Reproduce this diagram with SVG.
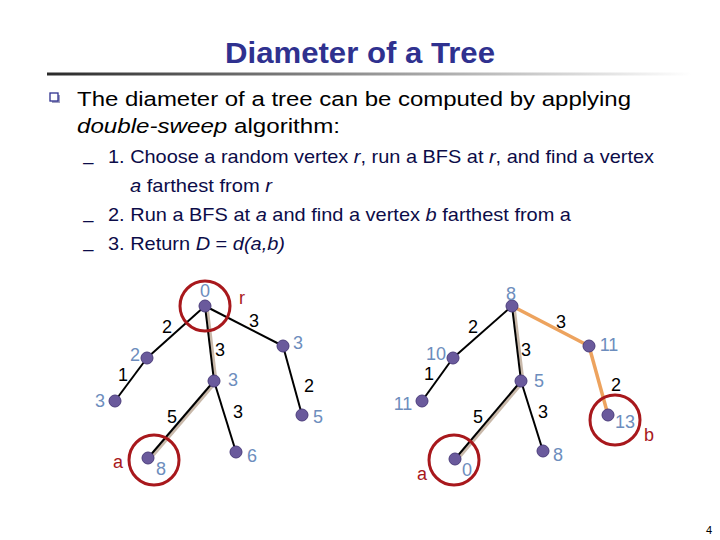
<svg xmlns="http://www.w3.org/2000/svg" width="720" height="540" viewBox="0 0 720 540">
<defs>
<linearGradient id="ul" x1="0" y1="0" x2="1" y2="0">
<stop offset="0" stop-color="#2a2a2a"/>
<stop offset="0.45" stop-color="#8a8a8a"/>
<stop offset="1" stop-color="#ffffff"/>
</linearGradient>
</defs>
<style>
.title{font-family:"Liberation Sans",Arial,sans-serif;font-weight:bold;font-size:30px;fill:#2f318f}
.body{font-family:"Liberation Sans",Arial,sans-serif;font-size:20.5px;fill:#000}
.sub{font-family:"Liberation Sans",Arial,sans-serif;font-size:19px;fill:#0c0c48}
.it{font-style:italic}
.nl{font-family:"Liberation Sans",Arial,sans-serif;font-size:18px;fill:#6d8dbd;text-anchor:middle}
.el{font-family:"Liberation Sans",Arial,sans-serif;font-size:18px;fill:#000;text-anchor:middle}
.rl{font-family:"Liberation Sans",Arial,sans-serif;font-size:18px;fill:#a8181c;text-anchor:middle}
.nd{fill:#6a5a9c;stroke:#4b3d7c;stroke-width:1}
.e{stroke:#000;stroke-width:2;fill:none}
.hl{stroke:#c9b9aa;stroke-width:3;fill:none}
.or{stroke:#eda35e;stroke-width:3.5;fill:none}
.rc{fill:none;stroke:#a8181c;stroke-width:3}
</style>
<rect width="720" height="540" fill="#fff"/>
<text class="title" x="225" y="63" textLength="270" lengthAdjust="spacingAndGlyphs">Diameter of a Tree</text>
<rect x="47" y="72.5" width="645" height="3" fill="url(#ul)"/>
<g id="bullet">
<rect x="52" y="95" width="8" height="8" fill="#a0a0c0"/>
<rect x="50" y="93" width="8" height="8" fill="#fff" stroke="#2f318f" stroke-width="1.3"/>
</g>
<text class="body" x="77" y="106" textLength="554" lengthAdjust="spacingAndGlyphs">The diameter of a tree can be computed by applying</text>
<text class="body" x="77" y="133" textLength="263" lengthAdjust="spacingAndGlyphs"><tspan class="it">double-sweep</tspan> algorithm:</text>
<text class="sub" x="83" y="168">–</text>
<text class="sub" x="83" y="226">–</text>
<text class="sub" x="83" y="255">–</text>
<text class="sub" x="108" y="163" textLength="546" lengthAdjust="spacingAndGlyphs">1. Choose a random vertex <tspan class="it">r</tspan>, run a BFS at <tspan class="it">r</tspan>, and find a vertex</text>
<text class="sub" x="130" y="192" textLength="142" lengthAdjust="spacingAndGlyphs"><tspan class="it">a</tspan> farthest from <tspan class="it">r</tspan></text>
<text class="sub" x="108" y="221" textLength="463" lengthAdjust="spacingAndGlyphs">2. Run a BFS at <tspan class="it">a</tspan> and find a vertex <tspan class="it">b</tspan> farthest from a</text>
<text class="sub" x="108" y="250" textLength="177" lengthAdjust="spacingAndGlyphs">3. Return <tspan class="it">D</tspan> = <tspan class="it">d(a,b)</tspan></text>

<g id="connectors">
<line class="hl" x1="207" y1="306" x2="216" y2="381"/>
<line class="hl" x1="216" y1="382" x2="150" y2="459"/>
<line class="e" x1="205" y1="306" x2="147" y2="358"/>
<line class="e" x1="147" y1="358" x2="115" y2="401"/>
<line class="e" x1="205" y1="306" x2="214" y2="381"/>
<line class="e" x1="205" y1="306" x2="283" y2="346"/>
<line class="e" x1="283" y1="346" x2="302" y2="415"/>
<line class="e" x1="214" y1="381" x2="148" y2="458"/>
<line class="e" x1="214" y1="381" x2="236" y2="452"/>
<line class="hl" x1="514" y1="306" x2="523" y2="381"/>
<line class="hl" x1="523" y1="382" x2="457" y2="460"/>
<line class="e" x1="512" y1="306" x2="453" y2="358"/>
<line class="e" x1="453" y1="358" x2="422" y2="401"/>
<line class="e" x1="512" y1="306" x2="521" y2="381"/>
<line class="e" x1="521" y1="381" x2="455" y2="459"/>
<line class="e" x1="521" y1="381" x2="543" y2="451"/>
<line class="or" x1="512" y1="306" x2="589" y2="346"/>
<line class="or" x1="589" y1="346" x2="608" y2="415"/>
</g>

<g id="left-tree">
<g id="L-r"><circle class="rc" cx="205" cy="306" r="25"/><circle class="nd" cx="205" cy="306" r="6"/><text class="nl" x="205" y="297">0</text><text class="rl" x="242" y="304">r</text></g>
<g id="L-n2"><circle class="nd" cx="147" cy="358" r="6"/><text class="nl" x="135" y="361">2</text></g>
<g id="L-n3a"><circle class="nd" cx="115" cy="401" r="6"/><text class="nl" x="100" y="407">3</text></g>
<g id="L-n3b"><circle class="nd" cx="214" cy="381" r="6"/><text class="nl" x="233" y="386">3</text></g>
<g id="L-n3c"><circle class="nd" cx="283" cy="346" r="6"/><text class="nl" x="298" y="349">3</text></g>
<g id="L-n5"><circle class="nd" cx="302" cy="415" r="6"/><text class="nl" x="318" y="423">5</text></g>
<g id="L-n6"><circle class="nd" cx="236" cy="452" r="6"/><text class="nl" x="252" y="462">6</text></g>
<g id="L-a"><circle class="rc" cx="154" cy="460" r="25"/><circle class="nd" cx="148" cy="458" r="6"/><text class="nl" x="161" y="475">8</text><text class="rl" x="118" y="468">a</text></g>
<g id="L-edge-labels">
<text class="el" x="167" y="333">2</text>
<text class="el" x="254" y="327">3</text>
<text class="el" x="220" y="356">3</text>
<text class="el" x="123" y="381">1</text>
<text class="el" x="309" y="392">2</text>
<text class="el" x="172" y="423">5</text>
<text class="el" x="238" y="418">3</text>
</g>
</g>

<g id="right-tree">
<g id="R-root"><circle class="nd" cx="512" cy="306" r="6"/><text class="nl" x="511" y="300">8</text></g>
<g id="R-n10"><circle class="nd" cx="453" cy="358" r="6"/><text class="nl" x="436" y="360">10</text></g>
<g id="R-n11a"><circle class="nd" cx="422" cy="401" r="6"/><text class="nl" x="403" y="410">11</text></g>
<g id="R-n5"><circle class="nd" cx="521" cy="381" r="6"/><text class="nl" x="539" y="387">5</text></g>
<g id="R-n11b"><circle class="nd" cx="589" cy="346" r="6"/><text class="nl" x="609" y="351">11</text></g>
<g id="R-n8"><circle class="nd" cx="543" cy="451" r="6"/><text class="nl" x="558" y="461">8</text></g>
<g id="R-b"><circle class="rc" cx="615" cy="420" r="25"/><circle class="nd" cx="608" cy="415" r="6"/><text class="nl" x="625" y="428">13</text><text class="rl" x="649" y="441">b</text></g>
<g id="R-a"><circle class="rc" cx="454" cy="460" r="25"/><circle class="nd" cx="455" cy="459" r="6"/><text class="nl" x="467" y="476">0</text><text class="rl" x="422" y="480">a</text></g>
<g id="R-edge-labels">
<text class="el" x="473" y="333">2</text>
<text class="el" x="561" y="328">3</text>
<text class="el" x="526" y="356">3</text>
<text class="el" x="429" y="380">1</text>
<text class="el" x="616" y="391">2</text>
<text class="el" x="478" y="423">5</text>
<text class="el" x="543" y="418">3</text>
</g>
</g>
<text x="709" y="534" font-family="Liberation Sans, Arial, sans-serif" font-size="11" fill="#000" text-anchor="middle">4</text>
</svg>
